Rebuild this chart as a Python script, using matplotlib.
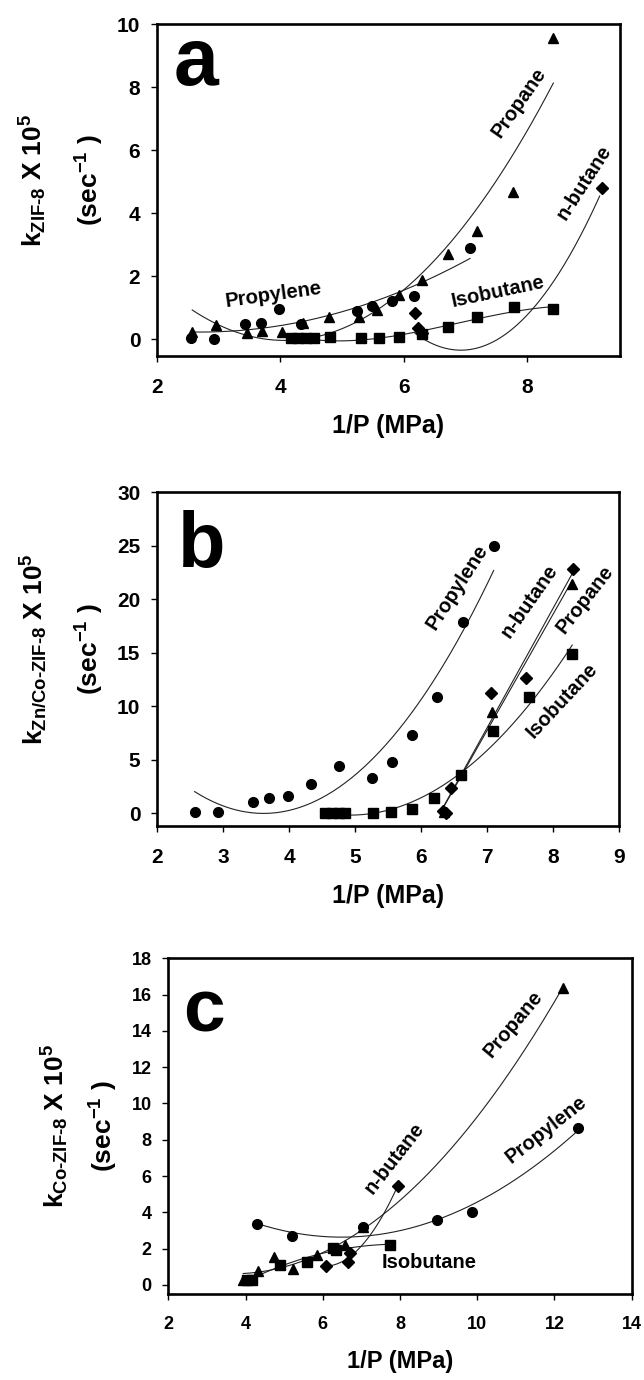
import numpy as np
import matplotlib
matplotlib.use('Agg')
import matplotlib.pyplot as plt

plt.rcParams['font.family'] = ['Liberation Sans', 'DejaVu Sans']
plt.rcParams['font.weight'] = 'bold'
plt.rcParams['mathtext.fontset'] = 'custom'
plt.rcParams['mathtext.rm'] = 'Liberation Sans:bold'
plt.rcParams['mathtext.bf'] = 'Liberation Sans:bold'
plt.rcParams['mathtext.it'] = 'Liberation Sans:bold'
plt.rcParams['mathtext.sf'] = 'Liberation Sans:bold'

# ---- panel a : ZIF-8 ----
a_propane_x = [2.57, 2.95, 3.46, 3.70, 4.03, 4.36, 4.78, 5.27, 5.57, 5.92, 6.30, 6.71, 7.19, 7.76, 8.42]
a_propane_y = [0.23, 0.44, 0.19, 0.25, 0.23, 0.50, 0.71, 0.70, 0.92, 1.40, 1.87, 2.70, 3.43, 4.68, 9.56]
a_propylene_x = [2.55, 2.92, 3.43, 3.68, 3.97, 4.33, 5.24, 5.49, 5.80, 6.16, 7.07]
a_propylene_y = [0.03, 0.00, 0.47, 0.52, 0.95, 0.48, 0.89, 1.05, 1.21, 1.37, 2.89]
a_isobutane_x = [4.17, 4.29, 4.41, 4.54, 4.81, 5.30, 5.59, 5.92, 6.30, 6.71, 7.19, 7.78, 8.41]
a_isobutane_y = [0.02, 0.02, 0.02, 0.02, 0.05, 0.03, 0.03, 0.05, 0.15, 0.38, 0.70, 1.01, 0.95]
a_nbutane_x = [6.18, 6.22, 6.30, 9.20]
a_nbutane_y = [0.82, 0.35, 0.19, 4.78]
# n-butane regression as printed (quadratic coefficients, x-range)
a_nbutane_fit = [0.968, -13.40, 46.02]
a_nbutane_fit_range = [6.18, 9.17]

# ---- panel b : Zn/Co-ZIF-8 ----
b_propylene_x = [2.57, 2.93, 3.45, 3.70, 3.99, 4.33, 4.76, 5.26, 5.56, 5.87, 6.24, 6.63, 7.10]
b_propylene_y = [0.12, 0.12, 1.06, 1.43, 1.60, 2.70, 4.40, 3.30, 4.80, 7.30, 10.9, 17.9, 25.0]
b_isobutane_x = [4.55, 4.65, 4.75, 4.85, 5.27, 5.55, 5.86, 6.19, 6.61, 7.09, 7.64, 8.29]
b_isobutane_y = [0.05, 0.05, 0.05, 0.05, 0.05, 0.10, 0.37, 1.43, 3.55, 7.70, 10.9, 14.9]
b_nbutane_x = [6.33, 6.38, 6.46, 7.06, 7.59, 8.30]
b_nbutane_y = [0.20, 0.00, 2.40, 11.2, 12.6, 22.8]
b_propane_x = [6.35, 7.08, 8.29]
b_propane_y = [0.10, 9.50, 21.4]

# ---- panel c : Co-ZIF-8 ----
c_propane_x = [3.94, 4.33, 4.74, 5.24, 5.84, 6.58, 7.05, 12.21]
c_propane_y = [0.29, 0.75, 1.55, 0.87, 1.63, 2.18, 3.20, 16.38]
c_propylene_x = [4.31, 5.20, 7.05, 8.97, 9.86, 12.62]
c_propylene_y = [3.35, 2.71, 3.18, 3.59, 4.01, 8.66]
c_isobutane_x = [4.05, 4.16, 4.89, 5.59, 6.27, 6.35, 7.74]
c_isobutane_y = [0.30, 0.29, 1.12, 1.26, 2.03, 1.95, 2.21]
c_nbutane_x = [6.08, 6.66, 6.71, 7.94]
c_nbutane_y = [1.05, 1.29, 1.76, 5.45]

LINE = dict(color='#222222', lw=0.8, zorder=2)
MS = 7
LABEL_SIZE = 14.5
YLAB_SIZE = 19


def draw_poly(ax, coef, x0, x1):
    xs = np.linspace(x0, x1, 200)
    ax.plot(xs, np.polyval(coef, xs), **LINE)


def fit_line(ax, x, y, deg):
    x = np.asarray(x, float)
    coef = np.polyfit(x, np.asarray(y, float), deg)
    draw_poly(ax, coef, x.min(), x.max())


def pts(ax, x, y, marker, ms=MS):
    ax.plot(x, y, ls='none', marker=marker, color='black', ms=ms, zorder=3)


def style(ax, xlim, ylim, xticks, yticks, lab_size, letter, lx, ly, lsize,
          sub, ylx1, ylx2, yly, xlab_size):
    ax.set_xlim(*xlim)
    ax.set_ylim(*ylim)
    ax.set_xticks(xticks)
    ax.set_yticks(yticks)
    for s in ax.spines.values():
        s.set_linewidth(1.9)
    ax.tick_params(direction='out', length=4, width=1.0, labelsize=lab_size)
    ax.tick_params(axis='x', pad=12)
    ax.tick_params(axis='y', pad=8)
    ax.set_xlabel('1/P (MPa)', fontsize=xlab_size, fontweight='bold', labelpad=12)
    ax.text(lx, ly, letter, transform=ax.transAxes, fontsize=lsize,
            fontweight='bold', ha='left', va='baseline')
    ax.text(ylx1, yly, 'k$_{\\mathrm{' + sub + '}}$ X 10$^{\\mathrm{5}}$',
            transform=ax.transAxes, rotation=90, fontsize=YLAB_SIZE,
            fontweight='bold', ha='center', va='center')
    ax.text(ylx2, yly, '(sec$^{\\mathrm{-1}}$ )', transform=ax.transAxes,
            rotation=90, fontsize=YLAB_SIZE, fontweight='bold',
            ha='center', va='center')


def lab(ax, x, y, s, rot):
    ax.text(x, y, s, fontsize=LABEL_SIZE, fontweight='bold', rotation=rot,
            ha='center', va='center', rotation_mode='anchor')


fig = plt.figure(figsize=(6.44, 13.8), dpi=100)
ax_a = fig.add_axes([0.2438, 0.742, 0.719, 0.2406])
ax_b = fig.add_axes([0.2438, 0.4014, 0.7175, 0.242])
ax_c = fig.add_axes([0.2613, 0.0623, 0.7196, 0.2433])

# panel a
fit_line(ax_a, a_propane_x, a_propane_y, 2)
fit_line(ax_a, a_propylene_x, a_propylene_y, 2)
fit_line(ax_a, a_isobutane_x, a_isobutane_y, 3)
draw_poly(ax_a, a_nbutane_fit, *a_nbutane_fit_range)
pts(ax_a, a_propane_x, a_propane_y, '^')
pts(ax_a, a_propylene_x, a_propylene_y, 'o')
pts(ax_a, a_isobutane_x, a_isobutane_y, 's')
pts(ax_a, a_nbutane_x, a_nbutane_y, 'D', 6.5)
style(ax_a, (2, 9.5), (-0.54, 10), [2, 4, 6, 8], [0, 2, 4, 6, 8, 10], 15,
      'a', 0.035, 0.816, 58, r'ZIF\text{-}8', -0.268, -0.145, 0.53, 18)
lab(ax_a, 7.87, 7.5, 'Propane', 55)
lab(ax_a, 8.92, 4.98, 'n-butane', 57)
lab(ax_a, 3.89, 1.40, 'Propylene', 8)
lab(ax_a, 7.52, 1.50, 'Isobutane', 12)

# panel b
fit_line(ax_b, b_propylene_x, b_propylene_y, 2)
fit_line(ax_b, b_isobutane_x, b_isobutane_y, 2)
fit_line(ax_b, b_nbutane_x, b_nbutane_y, 1)
fit_line(ax_b, b_propane_x, b_propane_y, 1)
pts(ax_b, b_propylene_x, b_propylene_y, 'o')
pts(ax_b, b_isobutane_x, b_isobutane_y, 's')
pts(ax_b, b_nbutane_x, b_nbutane_y, 'D', 6.5)
pts(ax_b, b_propane_x, b_propane_y, '^')
style(ax_b, (2, 9), (-1.2, 30), range(2, 10), range(0, 31, 5), 15,
      'b', 0.045, 0.776, 56, r'Zn/Co\text{-}ZIF\text{-}8', -0.268, -0.145,
      0.53, 18)
lab(ax_b, 6.54, 21.15, 'Propylene', 57)
lab(ax_b, 7.64, 19.8, 'n-butane', 55)
lab(ax_b, 8.49, 20.0, 'Propane', 52)
lab(ax_b, 8.14, 10.56, 'Isobutane', 47)

# panel c
fit_line(ax_c, c_propane_x, c_propane_y, 2)
fit_line(ax_c, c_propylene_x, c_propylene_y, 2)
fit_line(ax_c, c_isobutane_x, c_isobutane_y, 2)
fit_line(ax_c, c_nbutane_x, c_nbutane_y, 2)
pts(ax_c, c_propane_x, c_propane_y, '^')
pts(ax_c, c_propylene_x, c_propylene_y, 'o')
pts(ax_c, c_isobutane_x, c_isobutane_y, 's')
pts(ax_c, c_nbutane_x, c_nbutane_y, 'D', 6.5)
style(ax_c, (2, 14), (-0.5, 18), range(2, 15, 2), range(0, 19, 2), 13,
      'c', 0.032, 0.781, 54, r'Co\text{-}ZIF\text{-}8', -0.244, -0.138,
      0.5, 17)
lab(ax_c, 10.94, 14.39, 'Propane', 50)
lab(ax_c, 11.78, 8.54, 'Propylene', 38)
lab(ax_c, 7.85, 7.0, 'n-butane', 52)
lab(ax_c, 8.75, 1.24, 'Isobutane', 0)

fig.savefig('out.png', dpi=100)
